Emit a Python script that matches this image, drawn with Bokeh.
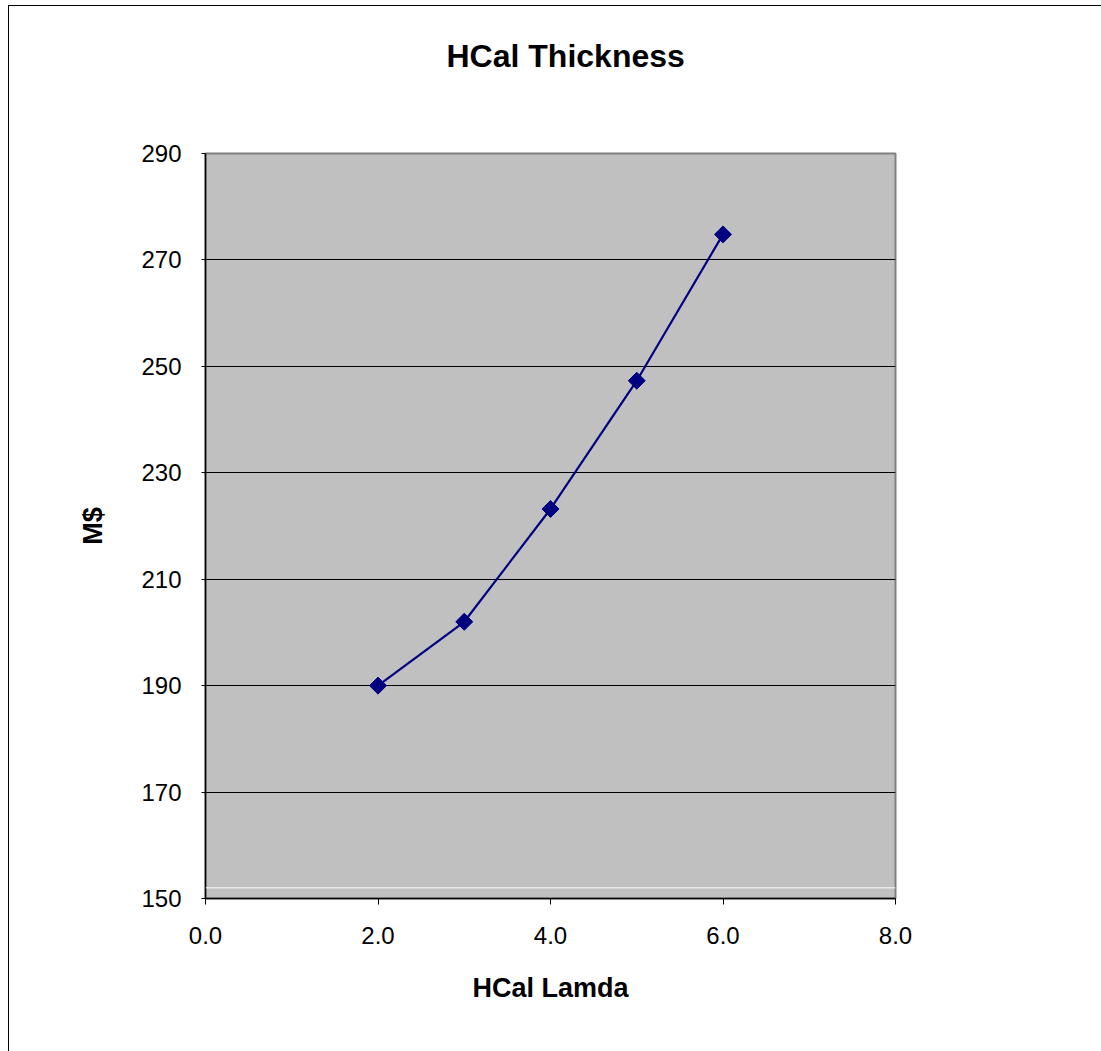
import math
from bokeh.plotting import figure
from bokeh.models import Range1d, FixedTicker, Span, Title
from bokeh.embed import file_html
from bokeh.resources import INLINE

# Data
lamda = [2.0, 3.0, 4.0, 5.0, 6.0]
cost = [190.0, 202.0, 223.2, 247.3, 274.8]
x_ticks = [0, 2, 4, 6, 8]
y_ticks = [150, 170, 190, 210, 230, 250, 270, 290]
grid_ticks = [170, 190, 210, 230, 250, 270]
white_line_value = 152

FONT = "Liberation Sans"

p = figure(
    width=1092, height=1045,
    frame_width=690, frame_height=745,
    min_border_left=196, min_border_top=147,
    min_border_right=206, min_border_bottom=153,
    x_range=Range1d(0, 8), y_range=Range1d(150, 290),
    output_backend="svg", toolbar_location=None,
    title="HCal Thickness",
)
p.styles = {"border-left": "1px solid black", "border-top": "1px solid black",
            "margin-left": "8px", "margin-top": "5px"}

p.background_fill_color = "#C0C0C0"
p.border_fill_color = "white"
p.outline_line_color = "#808080"
p.outline_line_width = 2

p.title.text_font = FONT
p.title.text_font_size = "32px"
p.title.text_font_style = "bold"
p.title.text_color = "black"
p.title.align = "left"
p.title.offset = 241
p.title.standoff = 58

# empty spacer between the title and the plot area
spacer = Title(text=" ", text_font_size="1px", standoff=48)
p.add_layout(spacer, "above")

p.xgrid.visible = False
p.ygrid.ticker = FixedTicker(ticks=grid_ticks)
p.ygrid.grid_line_color = "black"
p.ygrid.grid_line_width = 1

p.xaxis.ticker = FixedTicker(ticks=x_ticks)
p.yaxis.ticker = FixedTicker(ticks=y_ticks)
p.xaxis.major_label_overrides = {t: f"{t:.1f}" for t in x_ticks}
for ax in (p.xaxis, p.yaxis):
    ax.axis_line_color = "black"
    ax.axis_line_width = 1.5
    ax.major_tick_line_color = "black"
    ax.major_tick_in = 0
    ax.minor_tick_line_color = None
    ax.major_label_text_font = FONT
    ax.major_label_text_font_size = "24px"
    ax.major_label_text_color = "black"
    ax.axis_label_text_font = FONT
    ax.axis_label_text_font_style = "bold"
    ax.axis_label_text_font_size = "27px"
    ax.axis_label_text_color = "black"
p.xaxis.major_tick_out = 6
p.yaxis.major_tick_out = 4
p.xaxis.major_label_standoff = 22
p.yaxis.major_label_standoff = 20
p.xaxis.axis_label = "HCal Lamda"
p.yaxis.axis_label = "M$"
p.xaxis.axis_label_standoff = 26
p.yaxis.axis_label_standoff = 30

p.add_layout(Span(location=white_line_value, dimension="width", line_color="white", line_width=1))

p.line(lamda, cost, line_color="#000080", line_width=2.2)
p.scatter(lamda, cost, marker="square", size=12, angle=math.pi / 4,
          fill_color="#000080", line_color="#000080")

open("out.html", "w").write(file_html(p, INLINE))
